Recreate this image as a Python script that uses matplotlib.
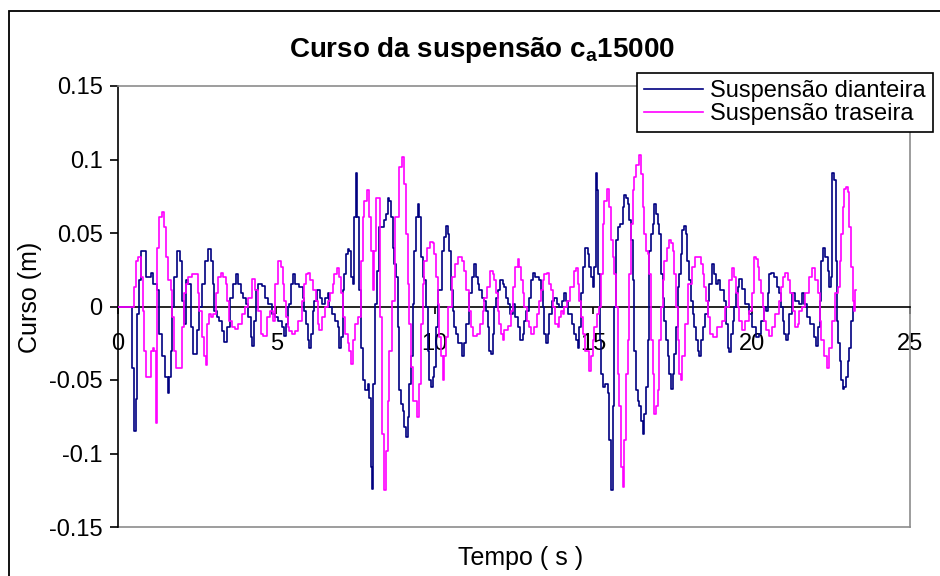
import numpy as np
import matplotlib
matplotlib.use("Agg")
import matplotlib.pyplot as plt
from matplotlib.patches import Rectangle

# curso da suspensão dianteira: (tempo [s], curso [m])
dianteira = [
    (0.00, 0.000), (0.43, 0.000), (0.46, -0.042), (0.54, -0.085), (0.59, -0.063), (0.64, -0.005),
    (0.69, 0.018), (0.75, 0.038), (0.85, 0.038), (0.91, 0.020), (1.01, 0.020), (1.06, 0.023),
    (1.17, 0.015), (1.27, 0.011), (1.33, -0.019), (1.43, -0.034), (1.54, -0.048), (1.59, -0.059),
    (1.64, -0.048), (1.69, -0.030), (1.75, 0.000), (1.80, 0.020), (1.91, 0.038), (2.01, 0.031),
    (2.06, 0.004), (2.12, -0.012), (2.17, 0.018), (2.27, 0.015), (2.33, -0.014), (2.43, -0.032),
    (2.54, -0.016), (2.59, 0.000), (2.69, 0.015), (2.80, 0.031), (2.91, 0.039), (2.96, 0.031),
    (3.01, 0.015), (3.06, -0.003), (3.17, -0.007), (3.22, -0.010), (3.33, -0.017), (3.38, -0.024),
    (3.48, -0.014), (3.59, 0.006), (3.69, 0.015), (3.75, 0.022), (3.85, 0.015), (3.91, 0.009),
    (4.01, 0.006), (4.06, 0.002), (4.17, -0.007), (4.22, -0.021), (4.27, -0.027), (4.33, -0.010),
    (4.38, 0.011), (4.48, 0.015), (4.59, 0.014), (4.69, 0.006), (4.80, 0.002), (4.91, -0.005),
    (5.01, -0.007), (5.12, -0.010), (5.22, -0.014), (5.27, -0.020), (5.33, -0.012), (5.38, 0.000),
    (5.43, 0.002), (5.48, 0.015), (5.54, 0.022), (5.64, 0.015), (5.80, 0.013), (5.85, 0.006),
    (5.91, -0.003), (5.96, -0.012), (6.01, -0.023), (6.06, -0.028), (6.12, -0.019), (6.17, -0.003),
    (6.22, 0.004), (6.33, 0.011), (6.43, 0.006), (6.48, 0.002), (6.59, 0.006), (6.64, 0.009),
    (6.69, 0.000), (6.80, -0.005), (6.90, -0.010), (6.96, -0.014), (7.01, -0.028), (7.06, -0.021),
    (7.12, 0.011), (7.17, 0.022), (7.22, 0.036), (7.27, 0.039), (7.33, 0.038), (7.38, 0.020),
    (7.43, 0.015), (7.48, 0.061), (7.54, 0.091), (7.57, 0.061), (7.62, 0.011), (7.69, -0.028),
    (7.75, -0.050), (7.85, -0.057), (7.91, -0.053), (7.96, -0.062), (8.01, -0.109), (8.04, -0.124),
    (8.09, -0.053), (8.14, 0.002), (8.22, 0.024), (8.27, 0.054), (8.38, 0.054), (8.43, 0.059),
    (8.48, 0.063), (8.54, 0.074), (8.59, 0.072), (8.64, 0.061), (8.69, 0.040), (8.75, 0.029),
    (8.80, 0.020), (8.85, -0.014), (8.91, -0.057), (8.96, -0.066), (9.01, -0.071), (9.06, -0.082),
    (9.12, -0.089), (9.17, -0.075), (9.22, -0.053), (9.27, -0.034), (9.33, 0.002), (9.38, 0.038),
    (9.43, 0.061), (9.48, 0.070), (9.54, 0.061), (9.59, 0.034), (9.64, 0.020), (9.69, 0.018),
    (9.75, 0.000), (9.80, -0.030), (9.85, -0.050), (9.90, -0.055), (9.96, -0.048), (10.01, -0.041),
    (10.06, -0.014), (10.17, 0.011), (10.27, 0.038), (10.33, 0.047), (10.38, 0.055), (10.43, 0.049),
    (10.48, 0.038), (10.54, 0.011), (10.59, -0.003), (10.64, -0.014), (10.69, -0.019), (10.80, -0.025),
    (10.91, -0.034), (10.96, -0.025), (11.01, -0.012), (11.12, 0.009), (11.22, 0.020), (11.27, 0.029),
    (11.33, 0.020), (11.38, 0.015), (11.43, 0.011), (11.54, 0.006), (11.59, 0.004), (11.64, -0.003),
    (11.69, -0.014), (11.75, -0.030), (11.80, -0.032), (11.85, -0.019), (11.91, 0.000), (11.96, 0.006),
    (12.01, 0.011), (12.12, 0.018), (12.17, 0.015), (12.22, 0.013), (12.27, 0.006), (12.32, 0.002),
    (12.43, -0.005), (12.48, 0.002), (12.59, -0.007), (12.64, -0.014), (12.75, -0.023), (12.80, -0.019),
    (12.85, -0.010), (12.91, -0.003), (13.01, 0.006), (13.06, 0.018), (13.12, 0.023), (13.22, 0.020),
    (13.33, 0.018), (13.38, 0.011), (13.43, 0.000), (13.48, -0.019), (13.54, -0.025), (13.59, -0.019),
    (13.64, -0.005), (13.75, 0.004), (13.80, 0.006), (13.91, 0.002), (13.96, 0.000), (14.06, 0.004),
    (14.12, 0.009), (14.17, 0.004), (14.27, -0.005), (14.38, -0.012), (14.43, -0.019), (14.48, -0.023),
    (14.54, -0.028), (14.59, -0.014), (14.64, 0.009), (14.69, 0.027), (14.80, 0.040), (14.85, 0.036),
    (14.91, 0.027), (14.96, 0.020), (15.01, 0.013), (15.06, 0.027), (15.09, 0.091), (15.14, 0.079),
    (15.18, 0.022), (15.22, -0.023), (15.27, -0.046), (15.33, -0.055), (15.43, -0.053), (15.48, -0.059),
    (15.54, -0.091), (15.59, -0.125), (15.64, -0.068), (15.69, 0.000), (15.75, 0.045), (15.80, 0.054),
    (15.91, 0.056), (15.96, 0.068), (16.01, 0.076), (16.06, 0.074), (16.11, 0.070), (16.17, 0.059),
    (16.22, 0.045), (16.27, 0.018), (16.32, -0.030), (16.38, -0.057), (16.43, -0.064), (16.48, -0.068),
    (16.53, -0.078), (16.59, -0.087), (16.64, -0.073), (16.69, -0.055), (16.74, -0.023), (16.80, 0.038),
    (16.85, 0.049), (16.90, 0.056), (16.96, 0.070), (17.01, 0.063), (17.06, 0.056), (17.11, 0.049),
    (17.17, 0.022), (17.22, 0.006), (17.27, -0.010), (17.32, -0.023), (17.38, -0.034), (17.43, -0.046),
    (17.48, -0.056), (17.53, -0.046), (17.58, -0.032), (17.64, -0.014), (17.69, 0.013), (17.74, 0.022),
    (17.79, 0.036), (17.84, 0.052), (17.89, 0.055), (17.94, 0.049), (18.00, 0.031), (18.05, 0.018),
    (18.11, 0.004), (18.16, -0.005), (18.21, -0.014), (18.27, -0.023), (18.32, -0.030), (18.38, -0.034),
    (18.43, -0.023), (18.48, -0.014), (18.59, -0.005), (18.64, 0.004), (18.69, 0.015), (18.80, 0.029),
    (18.85, 0.022), (18.90, 0.015), (18.96, 0.018), (19.06, 0.011), (19.17, 0.004), (19.22, -0.012),
    (19.27, -0.028), (19.33, -0.031), (19.38, -0.019), (19.43, -0.010), (19.48, 0.000), (19.54, 0.009),
    (19.59, 0.013), (19.64, 0.019), (19.75, 0.012), (19.85, 0.002), (19.96, -0.005), (20.06, -0.014),
    (20.22, -0.021), (20.27, -0.019), (20.33, -0.010), (20.43, 0.000), (20.48, -0.003), (20.53, 0.009),
    (20.59, 0.022), (20.64, 0.023), (20.75, 0.020), (20.85, 0.013), (20.90, 0.009), (20.96, 0.000),
    (21.01, -0.010), (21.06, -0.019), (21.12, -0.023), (21.17, -0.019), (21.22, -0.005), (21.33, 0.009),
    (21.43, 0.004), (21.54, 0.002), (21.64, 0.009), (21.69, 0.002), (21.80, -0.007), (21.91, -0.012),
    (22.02, -0.021), (22.07, -0.027), (22.12, -0.014), (22.17, 0.004), (22.22, 0.031), (22.27, 0.040),
    (22.38, 0.034), (22.43, 0.024), (22.48, 0.013), (22.53, 0.020), (22.56, 0.091), (22.64, 0.086),
    (22.67, 0.031), (22.71, -0.010), (22.75, -0.025), (22.80, -0.037), (22.85, -0.050), (22.90, -0.056),
    (22.96, -0.055), (23.01, -0.048), (23.06, -0.037), (23.12, -0.028), (23.17, -0.010), (23.20, 0.000),
]

# curso da suspensão traseira: (tempo [s], curso [m])
traseira = [
    (0.00, 0.000), (0.48, 0.000), (0.54, 0.013), (0.59, 0.031), (0.69, 0.034), (0.75, 0.020),
    (0.80, -0.003), (0.85, -0.030), (0.91, -0.048), (1.01, -0.048), (1.06, -0.030), (1.12, -0.028),
    (1.17, -0.030), (1.22, -0.079), (1.27, 0.040), (1.33, 0.061), (1.43, 0.064), (1.48, 0.054),
    (1.54, 0.034), (1.64, 0.018), (1.69, 0.011), (1.75, -0.007), (1.80, -0.030), (1.85, -0.042),
    (2.01, -0.042), (2.06, -0.014), (2.12, 0.009), (2.17, 0.015), (2.27, 0.020), (2.38, 0.022),
    (2.48, 0.022), (2.54, 0.009), (2.59, -0.003), (2.69, -0.021), (2.75, -0.034), (2.80, -0.040),
    (2.85, -0.012), (2.91, -0.005), (2.96, -0.007), (3.06, -0.005), (3.12, 0.009), (3.22, 0.020),
    (3.27, 0.023), (3.38, 0.020), (3.43, 0.015), (3.48, 0.004), (3.54, -0.010), (3.64, -0.014),
    (3.75, -0.015), (3.85, -0.012), (3.96, -0.005), (4.06, 0.000), (4.17, 0.006), (4.27, 0.019),
    (4.38, 0.011), (4.48, -0.003), (4.54, -0.019), (4.64, -0.020), (4.75, -0.007), (4.85, -0.003),
    (4.91, -0.010), (5.01, 0.015), (5.12, 0.031), (5.17, 0.027), (5.22, 0.015), (5.27, 0.004),
    (5.33, -0.007), (5.38, -0.014), (5.43, -0.017), (5.54, -0.019), (5.64, -0.017), (5.75, -0.010),
    (5.85, 0.004), (5.91, 0.015), (5.96, 0.022), (6.01, 0.023), (6.12, 0.018), (6.22, 0.011),
    (6.27, 0.004), (6.33, -0.012), (6.38, -0.016), (6.48, -0.007), (6.59, 0.000), (6.64, 0.004),
    (6.75, 0.009), (6.80, 0.015), (6.85, 0.022), (6.96, 0.026), (7.01, 0.020), (7.06, 0.009),
    (7.12, -0.007), (7.22, -0.019), (7.27, -0.025), (7.33, -0.030), (7.38, -0.039), (7.43, -0.023),
    (7.54, -0.012), (7.64, -0.007), (7.69, 0.031), (7.75, 0.061), (7.80, 0.072), (7.91, 0.079),
    (7.96, 0.061), (8.01, 0.038), (8.06, 0.011), (8.12, 0.038), (8.17, 0.074), (8.25, 0.074),
    (8.29, -0.007), (8.36, -0.087), (8.43, -0.125), (8.48, -0.098), (8.54, -0.064), (8.59, -0.030),
    (8.69, 0.004), (8.80, 0.061), (8.91, 0.095), (8.99, 0.102), (9.06, 0.083), (9.12, 0.049),
    (9.17, 0.015), (9.22, -0.012), (9.27, -0.041), (9.38, -0.064), (9.48, -0.075), (9.54, -0.053),
    (9.59, -0.012), (9.64, 0.015), (9.69, 0.031), (9.80, 0.040), (9.90, 0.044), (9.96, 0.043),
    (10.01, 0.036), (10.06, 0.020), (10.12, 0.002), (10.17, -0.021), (10.22, -0.034), (10.27, -0.050),
    (10.33, -0.034), (10.38, -0.021), (10.48, 0.000), (10.59, 0.020), (10.69, 0.029), (10.80, 0.034),
    (10.91, 0.031), (10.96, 0.024), (11.01, 0.011), (11.12, -0.003), (11.17, -0.014), (11.27, -0.020),
    (11.38, -0.019), (11.48, -0.012), (11.54, -0.003), (11.59, 0.006), (11.69, 0.013), (11.80, 0.024),
    (11.85, 0.022), (11.91, 0.018), (11.96, 0.009), (12.01, -0.003), (12.06, -0.012), (12.12, -0.019),
    (12.17, -0.023), (12.22, -0.016), (12.38, -0.013), (12.43, -0.003), (12.48, 0.013), (12.59, 0.027),
    (12.64, 0.032), (12.69, 0.027), (12.75, 0.018), (12.80, 0.009), (12.85, 0.000), (12.96, -0.010),
    (13.01, -0.014), (13.06, -0.019), (13.12, -0.019), (13.17, -0.014), (13.27, -0.005), (13.33, 0.004),
    (13.38, 0.011), (13.43, 0.018), (13.48, 0.022), (13.59, 0.023), (13.64, 0.015), (13.69, 0.011),
    (13.75, 0.000), (13.85, -0.012), (13.91, -0.014), (13.96, -0.007), (14.01, -0.003), (14.06, -0.005),
    (14.12, 0.000), (14.22, 0.004), (14.33, 0.013), (14.43, 0.024), (14.48, 0.026), (14.54, 0.015),
    (14.59, 0.004), (14.64, -0.007), (14.69, -0.019), (14.80, -0.030), (14.91, -0.044), (14.96, -0.034),
    (15.01, -0.023), (15.06, -0.014), (15.17, -0.005), (15.22, 0.000), (15.27, 0.022), (15.33, 0.056),
    (15.38, 0.072), (15.48, 0.080), (15.54, 0.068), (15.59, 0.045), (15.64, 0.034), (15.69, 0.022),
    (15.75, 0.000), (15.80, -0.046), (15.85, -0.068), (15.91, -0.109), (15.96, -0.123), (16.01, -0.091),
    (16.06, -0.046), (16.11, -0.023), (16.17, 0.022), (16.22, 0.056), (16.27, 0.079), (16.32, 0.088),
    (16.38, 0.096), (16.48, 0.103), (16.53, 0.090), (16.59, 0.068), (16.64, 0.049), (16.69, 0.038),
    (16.74, 0.036), (16.80, 0.022), (16.85, -0.023), (16.90, -0.046), (16.96, -0.073), (17.01, -0.068),
    (17.06, -0.057), (17.11, -0.023), (17.17, 0.000), (17.22, 0.018), (17.27, 0.031), (17.38, 0.040),
    (17.43, 0.045), (17.48, 0.043), (17.53, 0.038), (17.58, 0.022), (17.64, 0.000), (17.69, -0.023),
    (17.74, -0.046), (17.79, -0.050), (17.84, -0.034), (17.94, -0.012), (18.05, 0.015), (18.16, 0.027),
    (18.27, 0.034), (18.38, 0.034), (18.43, 0.029), (18.48, 0.022), (18.53, 0.013), (18.59, 0.004),
    (18.64, -0.007), (18.74, -0.019), (18.80, -0.021), (19.01, -0.014), (19.11, -0.010), (19.22, 0.000),
    (19.33, 0.018), (19.43, 0.026), (19.48, 0.020), (19.54, 0.009), (19.59, 0.000), (19.64, -0.010),
    (19.75, -0.016), (19.85, -0.010), (19.96, -0.003), (20.06, 0.009), (20.12, 0.034), (20.17, 0.032),
    (20.22, 0.027), (20.27, 0.018), (20.33, 0.009), (20.38, 0.000), (20.43, -0.010), (20.48, -0.016),
    (20.59, -0.020), (20.69, -0.014), (20.80, -0.005), (20.90, 0.004), (20.96, 0.013), (21.01, 0.020),
    (21.12, 0.023), (21.17, 0.018), (21.27, 0.009), (21.33, -0.003), (21.43, -0.014), (21.48, -0.012),
    (21.54, -0.003), (21.64, 0.000), (21.75, 0.009), (21.85, 0.020), (21.96, 0.026), (22.07, 0.018),
    (22.12, 0.009), (22.17, -0.010), (22.22, -0.023), (22.33, -0.034), (22.43, -0.042), (22.48, -0.028),
    (22.59, -0.010), (22.69, 0.009), (22.75, 0.013), (22.80, 0.031), (22.85, 0.049), (22.90, 0.068),
    (22.96, 0.080), (23.01, 0.081), (23.06, 0.078), (23.12, 0.054), (23.17, 0.027), (23.22, 0.004),
    (23.25, -0.003), (23.29, 0.011),
]

x_ticks = [0, 5, 10, 15, 20, 25]
y_ticks = [0.15, 0.1, 0.05, 0, -0.05, -0.1, -0.15]
y_tick_labels = ["0.15", "0.1", "0.05", "0", "-0.05", "-0.1", "-0.15"]

W, H = 940, 576
FONT = "Liberation Sans"


def draw_frame(fig, ax):
    # borda da área do gráfico (estilo planilha)
    fig.add_artist(Rectangle((9 / W, -0.1), 1.2, 1.1 - 11 / H,
                             transform=fig.transFigure, fill=False,
                             edgecolor="black", linewidth=1.3))
    for side in ["top", "right"]:
        ax.spines[side].set_color("#8c8c8c")
        ax.spines[side].set_linewidth(1.2)
    ax.spines["left"].set_linewidth(1.2)
    ax.spines["bottom"].set_position(("data", 0))
    ax.spines["bottom"].set_linewidth(1.2)
    ax.plot([0, 1], [0, 0], transform=ax.transAxes, color="#8c8c8c",
            linewidth=1.2, clip_on=False, zorder=1)


def plot_curso(fig, ax):
    t_d, c_d = np.array(dianteira).T
    t_t, c_t = np.array(traseira).T
    ax.plot(t_d, c_d, color="#000080", linewidth=1.2, drawstyle="steps-mid",
            label="Suspensão dianteira", zorder=3)
    ax.plot(t_t, c_t, color="#ff00ff", linewidth=1.2, drawstyle="steps-mid",
            label="Suspensão traseira", zorder=4)

    ax.set_xlim(0, 25)
    ax.set_ylim(-0.15, 0.15)
    ax.set_xticks(x_ticks)
    ax.set_xticklabels([str(v) for v in x_ticks], fontfamily=FONT, fontsize=17)
    ax.set_yticks(y_ticks)
    ax.set_yticklabels(y_tick_labels, fontfamily=FONT, fontsize=17)
    ax.tick_params(axis="x", direction="out", length=5, width=1.2, pad=14)
    ax.tick_params(axis="y", direction="out", length=6, width=1.2, pad=5)

    fig.text(482 / W, 1 - 50 / H, "Curso da suspensão c$_\\mathregular{a}$15000",
             fontfamily=FONT, fontsize=20, fontweight="bold",
             ha="center", va="center")
    ax.set_ylabel("Curso (m)", fontfamily=FONT, fontsize=18)
    ax.yaxis.set_label_coords(-0.096, 0.52)
    ax.set_xlabel("Tempo ( s )", fontfamily=FONT, fontsize=18)
    ax.xaxis.set_label_coords(0.508, -0.042)

    leg = ax.legend(loc="upper right", bbox_to_anchor=(1.029, 1.03),
                    borderaxespad=0, fancybox=False, framealpha=1,
                    prop={"family": FONT, "size": 17}, handlelength=2.5,
                    handletextpad=0.3, borderpad=0.3, labelspacing=0.05)
    leg.get_frame().set_edgecolor("black")
    leg.get_frame().set_linewidth(1.2)


def main():
    plt.rcParams["mathtext.default"] = "regular"
    fig = plt.figure(figsize=(W / 100, H / 100), dpi=100)
    ax = fig.add_axes([118 / W, 1 - 527 / H, 792 / W, 441 / H])
    draw_frame(fig, ax)
    plot_curso(fig, ax)
    fig.savefig("out.png", dpi=100)


if __name__ == "__main__":
    main()
